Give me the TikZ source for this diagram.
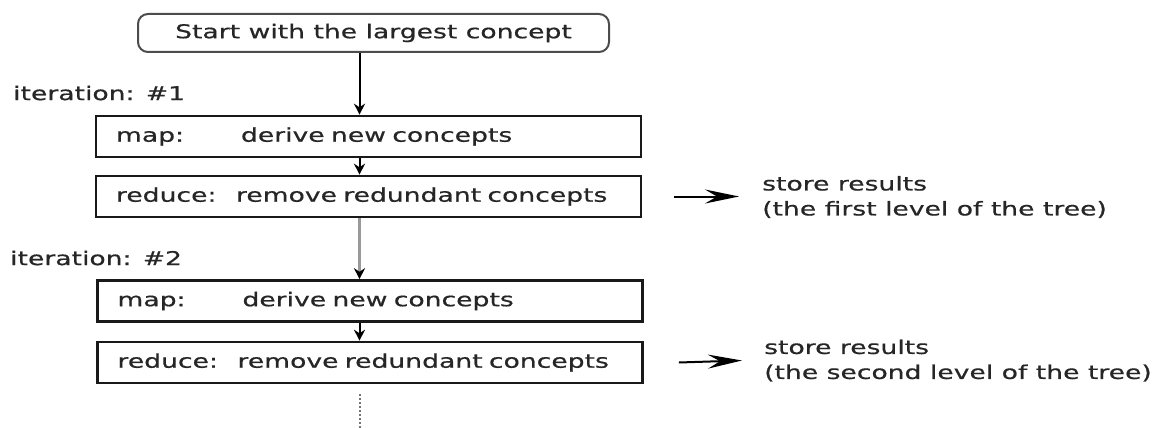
\documentclass[tikz,border=0pt]{standalone}
\usepackage{fontspec}
\setmainfont{DejaVu Sans}[FakeStretch=1.4, FakeBold=0.6]
\usetikzlibrary{arrows.meta}
\begin{document}
\begin{tikzpicture}[x=1pt,y=-1pt,
  every node/.style={font=\fontsize{19}{25}\selectfont, text=black!85},
  startbox/.style={draw=black!70, line width=2pt, rounded corners=10pt,
    minimum width=471pt, minimum height=38pt, inner sep=0pt},
  stagebox/.style={draw=black!90, line width=2.6pt, minimum width=545pt,
    minimum height=41pt, inner sep=0pt, text width=505pt, align=left},
  flow/.style={line width=2pt, -{Stealth[length=11pt,width=11pt]}},
  store/.style={line width=2pt, -{Stealth[length=34pt,width=14pt,inset=12pt]}},
  note/.style={anchor=west, inner sep=0pt, align=left},
  iter/.style={anchor=west, inner sep=0pt}]
\useasboundingbox (0,0) rectangle (1165,428);

% vertical axis of the flow
\coordinate (axis) at (359.5,0);

\node[startbox] (start) at (373.5,33) {Start with the largest concept};

\node[iter] (it1) at (13,93) {iteration: \#1};
\node[stagebox] (m1) at (368.5,136.5) {\makebox[125pt][l]{map:}derive new concepts};
\node[stagebox] (r1) at (368.5,196.5) {\makebox[120pt][l]{reduce:}remove redundant concepts};

\node[iter] (it2) at (10,258) {iteration: \#2};
\node[stagebox] (m2) at (370,301) {\makebox[125pt][l]{map:}derive new concepts};
\node[stagebox] (r2) at (370,362.5) {\makebox[120pt][l]{reduce:}remove redundant concepts};

\node[note] (s1) at (762,197) {store results\\(the first level of the tree)};
\node[note] (s2) at (764,360.5) {store results\\(the second level of the tree)};

\coordinate (more) at (359.5,428);

\draw[flow] (start.south -| axis) -- (m1.north -| axis);
\draw[flow] (m1.south -| axis) -- (r1.north -| axis);
\draw[flow, draw=black!40, line width=3pt, -{Stealth[length=11pt,width=11pt,black]}] (r1.south -| axis) -- (m2.north -| axis);
\draw[flow] (m2.south -| axis) -- (r2.north -| axis);
\draw[line width=2pt, dash pattern=on 1.5pt off 2.5pt, black!55] ([yshift=-10pt]r2.south -| axis) -- (more);

\draw[store] ([xshift=32pt]r1.east) -- ([xshift=-23pt]s1.west |- r1.east);
\draw[store] ([xshift=35pt]r2.east) -- ([xshift=-22pt]s2.west);
\end{tikzpicture}
\end{document}
